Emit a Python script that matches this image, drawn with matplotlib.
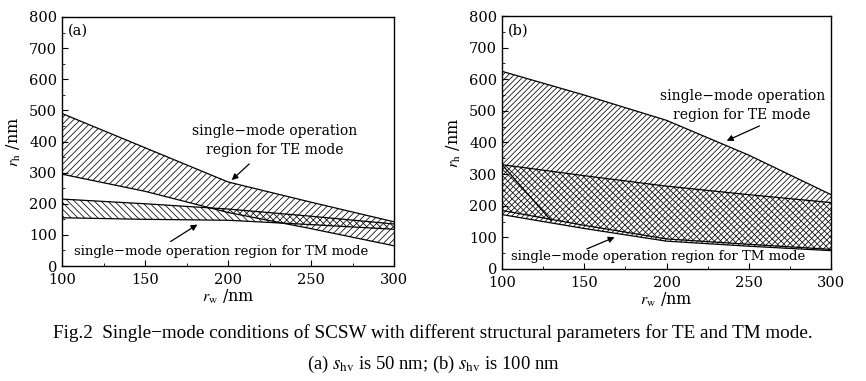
import matplotlib
matplotlib.use("Agg")
import matplotlib.pyplot as plt
from matplotlib.ticker import MultipleLocator

plt.rcParams['font.family'] = ['DejaVu Serif']
plt.rcParams['mathtext.fontset'] = 'stix'
plt.rcParams['hatch.linewidth'] = 0.55
plt.rcParams['hatch.color'] = 'black'

# ---------------- data ----------------
rw = [100, 150, 200, 250, 300]

# panel (a): s_hv = 50 nm
te_up_a = [490, 380, 270, 205, 142]
te_lo_a = [295, 240, 172, 120, 65]
tm_up_a = [215, 200, 183, 160, 135]
tm_lo_a = [155, 150, 147, 133, 118]

# panel (b): s_hv = 100 nm
te_up_b = [625, 550, 470, 360, 235]
te_lo_b = [172, 128, 88, 72, 58]
tm_up_b = [330, 295, 262, 235, 210]
tm_lo_b = [185, 138, 95, 78, 62]
diag_x_b = [100, 130]
diag_y_b = [330, 152]

xticks = [100, 150, 200, 250, 300]
yticks = [0, 100, 200, 300, 400, 500, 600, 700, 800]

fig = plt.figure(figsize=(8.66, 3.81), dpi=100)
axa = fig.add_axes([0.0716, 0.3018, 0.3834, 0.6536])
axb = fig.add_axes([0.5797, 0.294, 0.380, 0.664])

FS = 9.5


def style(ax, label):
    ax.set_xlim(100, 300)
    ax.set_ylim(0, 800)
    ax.set_xticks(xticks)
    ax.set_yticks(yticks)
    ax.xaxis.set_minor_locator(MultipleLocator(25))
    ax.yaxis.set_minor_locator(MultipleLocator(50))
    ax.tick_params(which='both', direction='in', top=False, right=False,
                   labelsize=10.5)
    ax.tick_params(axis='x', pad=5)
    ax.tick_params(which='major', length=4)
    ax.tick_params(which='minor', length=2)
    ax.set_xlabel(r'$r_{\rm w}$ /nm', fontsize=11.5, labelpad=1)
    ax.set_ylabel(r'$r_{\rm h}$ /nm', fontsize=11.5, labelpad=4)
    ax.text(103.5, 755, label, fontsize=10.5, va='center', ha='left')
    for s in ax.spines.values():
        s.set_linewidth(1.0)


def band(ax, x, up, lo, hatch):
    ax.fill_between(x, lo, up, facecolor='none', edgecolor='black',
                    hatch=hatch, linewidth=0)
    ax.plot(x, up, color='black', lw=0.9)
    ax.plot(x, lo, color='black', lw=0.9)


# panel (a)
band(axa, rw, te_up_a, te_lo_a, '/////')
band(axa, rw, tm_up_a, tm_lo_a, '\\\\\\\\\\')
style(axa, '(a)')
axa.text(228, 402, 'single\u2212mode operation\nregion for TE mode',
         ha='center', va='center', fontsize=FS + 0.5, linespacing=1.45)
axa.annotate('', xy=(201, 270), xytext=(214, 334),
             arrowprops=dict(arrowstyle='-|>', color='black', lw=0.9,
                             mutation_scale=9))
axa.text(196, 48, 'single\u2212mode operation region for TM mode',
         ha='center', va='center', fontsize=FS)
axa.annotate('', xy=(183, 138), xytext=(164, 74),
             arrowprops=dict(arrowstyle='-|>', color='black', lw=0.9,
                             mutation_scale=9))

# panel (b)
band(axb, rw, te_up_b, te_lo_b, '//////')
band(axb, rw, tm_up_b, tm_lo_b, '\\\\\\\\\\')
axb.plot(diag_x_b, diag_y_b, color='black', lw=0.9)
style(axb, '(b)')
axb.text(246, 517, 'single\u2212mode operation\nregion for TE mode',
         ha='center', va='center', fontsize=FS + 0.5, linespacing=1.45)
axb.annotate('', xy=(235, 402), xytext=(258, 456),
             arrowprops=dict(arrowstyle='-|>', color='black', lw=0.9,
                             mutation_scale=9))
axb.text(195, 38, 'single\u2212mode operation region for TM mode',
         ha='center', va='center', fontsize=FS)
axb.annotate('', xy=(170, 104), xytext=(150, 60),
             arrowprops=dict(arrowstyle='-|>', color='black', lw=0.9,
                             mutation_scale=9))

# caption
fig.text(0.5, 1 - 333 / 381,
         'Fig.2  Single\u2212mode conditions of SCSW with different structural '
         'parameters for TE and TM mode.',
         ha='center', va='center', fontsize=13.8, family='Liberation Serif')
fig.text(0.5, 1 - 364 / 381,
         r'(a) $s_{\rm hv}$ is 50 nm; (b) $s_{\rm hv}$ is 100 nm',
         ha='center', va='center', fontsize=13.4, family='Liberation Serif')

fig.savefig('out.png', dpi=100)
